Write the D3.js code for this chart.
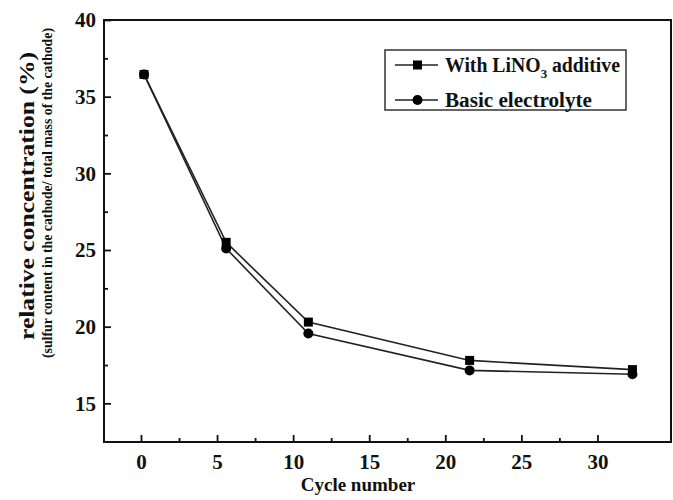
<!DOCTYPE html>
<html>
<head>
<meta charset="utf-8">
<script src="https://cdn.jsdelivr.net/npm/d3@7"></script>
<style>
  body { margin: 0; background: #fff; }
</style>
</head>
<body>
<div id="chart"></div>
<script>
// Values (x positions as drawn against the axis)
var cycles = [0.2, 5.6, 11.0, 21.6, 32.3];
var withLiNO3 = [36.45, 25.5, 20.3, 17.8, 17.2];
var basic = [36.45, 25.1, 19.55, 17.15, 16.9];
var xTicks = [0, 5, 10, 15, 20, 25, 30];
var xMinor = [2.5, 7.5, 12.5, 17.5, 22.5, 27.5];
var yTicks = [15, 20, 25, 30, 35, 40];
var yMinor = [17.5, 22.5, 27.5, 32.5, 37.5];

var serif = "'Liberation Serif', 'Times New Roman', Times, 'DejaVu Serif', serif";

var svgWidth = 673;
var svgHeight = 500;
var margin = { top: 20, right: 1, bottom: 58, left: 104 };
var width = svgWidth - margin.left - margin.right;
var height = svgHeight - margin.top - margin.bottom;

var svg = d3.select("#chart")
  .append("svg")
  .attr("width", svgWidth)
  .attr("height", svgHeight)
  .attr("font-family", serif)
  .attr("font-weight", "bold");

var chartGroup = svg.append("g")
  .attr("transform", `translate(${margin.left}, ${margin.top})`);

// scales
var xScale = d3.scaleLinear()
  .domain([-2.43, 34.9])
  .range([0, width]);

var yScale = d3.scaleLinear()
  .domain([12.48, 40])
  .range([height, 0]);

// axes, ticks pointing inward
var bottomAxis = d3.axisBottom(xScale).tickValues(xTicks).tickSize(-7).tickPadding(12);
var bottomMinor = d3.axisBottom(xScale).tickValues(xMinor).tickSize(-4).tickFormat("");
var leftAxis = d3.axisLeft(yScale).tickValues(yTicks).tickSize(-7).tickPadding(8);
var leftMinor = d3.axisLeft(yScale).tickValues(yMinor).tickSize(-4).tickFormat("");

function styleAxis(g) {
  g.attr("font-family", serif).attr("font-size", 21).attr("font-weight", "bold");
  g.select(".domain").remove();
  g.selectAll("line").attr("stroke", "#111").attr("stroke-width", 1.8);
  g.selectAll("text").attr("fill", "#111");
}

chartGroup.append("g").attr("transform", `translate(0, ${height})`).call(bottomAxis).call(styleAxis);
chartGroup.append("g").attr("transform", `translate(0, ${height})`).call(bottomMinor).call(styleAxis);
chartGroup.append("g").call(leftAxis).call(styleAxis);
chartGroup.append("g").call(leftMinor).call(styleAxis);

// frame
chartGroup.append("rect")
  .attr("x", 0)
  .attr("y", 0)
  .attr("width", width - 1)
  .attr("height", height)
  .attr("fill", "none")
  .attr("stroke", "#111")
  .attr("stroke-width", 2);

// lines
var line = d3.line()
  .x((d, i) => xScale(cycles[i]))
  .y(d => yScale(d));

chartGroup.append("path")
  .datum(basic)
  .attr("d", line)
  .attr("fill", "none")
  .attr("stroke", "#222")
  .attr("stroke-width", 1.6);

chartGroup.append("path")
  .datum(withLiNO3)
  .attr("d", line)
  .attr("fill", "none")
  .attr("stroke", "#222")
  .attr("stroke-width", 1.6);

// markers: circles under squares
chartGroup.selectAll(".dot")
  .data(basic)
  .enter()
  .append("circle")
  .attr("class", "dot")
  .attr("cx", (d, i) => xScale(cycles[i]))
  .attr("cy", d => yScale(d))
  .attr("r", 5)
  .attr("fill", "#000");

chartGroup.selectAll(".sq")
  .data(withLiNO3)
  .enter()
  .append("rect")
  .attr("class", "sq")
  .attr("x", (d, i) => xScale(cycles[i]) - 4.5)
  .attr("y", d => yScale(d) - 4.5)
  .attr("width", 9)
  .attr("height", 9)
  .attr("fill", "#000");

// legend
var legend = svg.append("g").attr("transform", "translate(385, 50)");
legend.append("rect")
  .attr("width", 241)
  .attr("height", 60)
  .attr("fill", "#fff")
  .attr("stroke", "#333")
  .attr("stroke-width", 1.5);

var legendRows = [{ y: 15, shape: "square" }, { y: 50, shape: "circle" }];
legendRows.forEach(function (row) {
  legend.append("line")
    .attr("x1", 10).attr("x2", 53)
    .attr("y1", row.y).attr("y2", row.y)
    .attr("stroke", "#222").attr("stroke-width", 1.6);
  if (row.shape === "square") {
    legend.append("rect").attr("x", 28).attr("y", row.y - 4.5).attr("width", 9).attr("height", 9).attr("fill", "#000");
  } else {
    legend.append("circle").attr("cx", 32.5).attr("cy", row.y).attr("r", 5).attr("fill", "#000");
  }
});

var t1 = legend.append("text").attr("x", 60).attr("y", 22).attr("font-size", 20).attr("fill", "#111")
  .attr("textLength", 175).attr("lengthAdjust", "spacingAndGlyphs");
t1.append("tspan").text("With LiNO");
t1.append("tspan").attr("font-size", 13).attr("dy", 6).text("3");
t1.append("tspan").attr("dy", -6).text(" additive");

legend.append("text").attr("x", 60).attr("y", 57).attr("font-size", 20).attr("fill", "#111")
  .attr("textLength", 147).attr("lengthAdjust", "spacingAndGlyphs")
  .text("Basic electrolyte");

// axis titles
svg.append("text")
  .attr("x", 358)
  .attr("y", 491)
  .attr("text-anchor", "middle")
  .attr("font-size", 19)
  .attr("fill", "#111")
  .text("Cycle number");

svg.append("text")
  .attr("transform", "translate(34, 196) rotate(-90)")
  .attr("text-anchor", "middle")
  .attr("font-size", 22)
  .attr("fill", "#111")
  .attr("textLength", 288)
  .attr("lengthAdjust", "spacingAndGlyphs")
  .text("relative concentration  (%)");

svg.append("text")
  .attr("transform", "translate(52, 193) rotate(-90)")
  .attr("text-anchor", "middle")
  .attr("font-size", 15)
  .attr("fill", "#111")
  .attr("textLength", 330)
  .attr("lengthAdjust", "spacingAndGlyphs")
  .text("(sulfur content in the cathode/ total mass of the cathode)");
</script>
</body>
</html>
